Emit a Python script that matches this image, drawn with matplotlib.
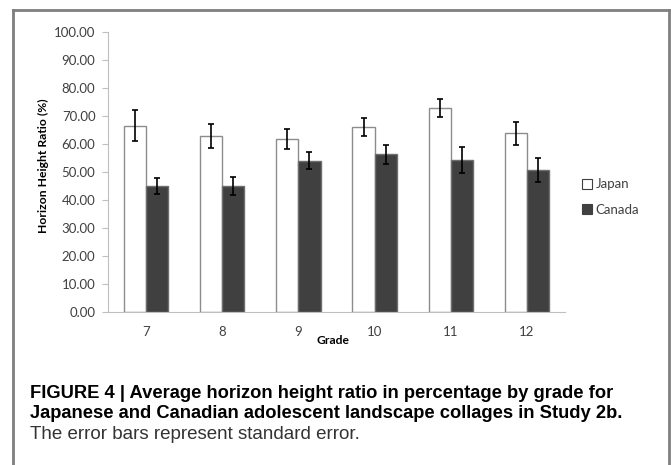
import matplotlib.pyplot as plt
import numpy as np
from matplotlib.lines import Line2D
from matplotlib.patches import Patch

grades = ['7', '8', '9', '10', '11', '12']
japan = [66.6, 62.9, 61.9, 66.1, 72.8, 63.8]
japan_se = [5.5, 4.3, 3.6, 3.2, 3.3, 4.1]
canada = [45.0, 45.0, 54.0, 56.3, 54.2, 50.7]
canada_se = [2.8, 3.3, 3.0, 3.3, 4.7, 4.4]
yticks = np.arange(0, 101, 10)

chart_font = ['Lato', 'DejaVu Sans']
caption_font = ['Liberation Sans', 'DejaVu Sans']

fig = plt.figure(figsize=(6.71, 4.65), dpi=100)
ax = fig.add_axes([108/671, 1-312/465, (565-108)/671, (312-32)/465])

x = np.arange(len(grades))
w = 0.29
ax.bar(x - w/2, japan, w, color='white', edgecolor='#8c8c8c', linewidth=1, zorder=2)
ax.bar(x + w/2, canada, w, color='#404040', edgecolor='#6e6e6e', linewidth=1, zorder=2)
ax.errorbar(x - w/2, japan, yerr=japan_se, fmt='none', ecolor='black',
            elinewidth=1.2, capsize=2.5, capthick=1.2, zorder=3)
ax.errorbar(x + w/2, canada, yerr=canada_se, fmt='none', ecolor='black',
            elinewidth=1.2, capsize=2.5, capthick=1.2, zorder=3)

ax.set_xlim(-0.5, len(grades) - 0.5)
ax.set_ylim(0, 100)
ax.set_yticks(yticks)
ax.set_yticklabels(['%.2f' % v for v in yticks], family=chart_font, fontsize=9.5, color='#404040')
ax.set_xticks(x)
ax.set_xticklabels(grades, family=chart_font, fontsize=9.5, color='#404040')
ax.tick_params(axis='x', length=0, pad=10)
ax.tick_params(axis='y', length=4, color='#bfbfbf', pad=5)
for s in ['top', 'right']:
    ax.spines[s].set_visible(False)
ax.spines['left'].set_color('#bfbfbf')
ax.spines['bottom'].set_color('#bfbfbf')

fig.text(43/671, 1-166/465, 'Horizon Height Ratio (%)', rotation=90, ha='center', va='center',
         family=chart_font, fontsize=8.7, fontweight='bold', color='black')
fig.text(333/671, 1-341/465, 'Grade', ha='center', va='center',
         family=chart_font, fontsize=8.7, fontweight='bold', color='black')

handles = [Patch(facecolor='white', edgecolor='#404040', linewidth=0.8),
           Patch(facecolor='#404040', edgecolor='#404040', linewidth=0.8)]
leg = fig.legend(handles, ['Japan', 'Canada'], loc='center left',
                 bbox_to_anchor=(582/671, 1-197/465), frameon=False,
                 prop={'family': chart_font, 'size': 9.5},
                 handlelength=0.75, handleheight=0.75, handletextpad=0.3,
                 labelspacing=1.0, borderaxespad=0, borderpad=0)
for t in leg.get_texts():
    t.set_color('#404040')

# caption
fig.text(30/671, 1-393/465, 'FIGURE 4 | Average horizon height ratio in percentage by grade for',
         ha='left', va='center', family=caption_font, fontsize=13.2, fontweight='bold')
fig.text(30/671, 1-413/465, 'Japanese and Canadian adolescent landscape collages in Study 2b.',
         ha='left', va='center', family=caption_font, fontsize=13.2, fontweight='bold')
fig.text(30/671, 1-434/465, 'The error bars represent standard error.',
         ha='left', va='center', family=caption_font, fontsize=13.5, color='#333333')

# frame around the figure (bottom edge cut off)
bc = '#7f7f7f'
fig.add_artist(Line2D([13/671, 13/671], [0, 1-10/465], color=bc, lw=2, transform=fig.transFigure))
fig.add_artist(Line2D([13/671, 669/671], [1-10/465, 1-10/465], color=bc, lw=2, transform=fig.transFigure))
fig.add_artist(Line2D([669/671, 669/671], [0, 1-10/465], color=bc, lw=2, transform=fig.transFigure))

fig.savefig('out.png', dpi=100)
